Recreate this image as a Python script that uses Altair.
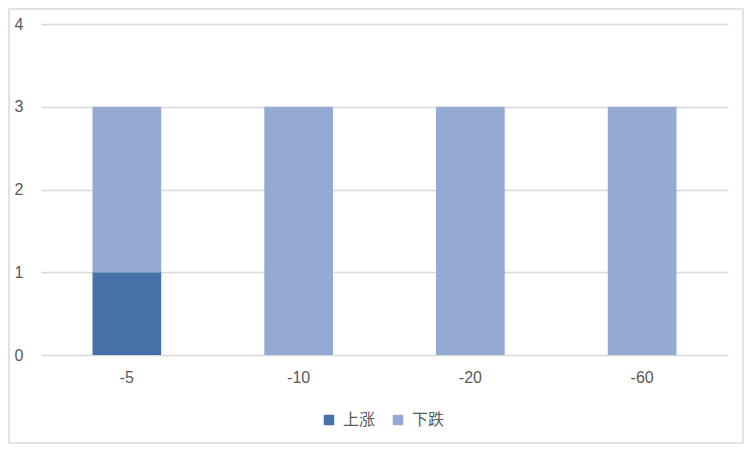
import altair as alt
import pandas as pd

categories = ["-5", "-10", "-20", "-60"]
series = ["上涨", "下跌"]
up_values = [1, 0, 0, 0]
down_values = [2, 3, 3, 3]
colors = ["#4472A8", "#95AAD3"]

rows = []
for i, c in enumerate(categories):
    rows.append({"cat": c, "series": series[0], "value": up_values[i], "ord": 0})
    rows.append({"cat": c, "series": series[1], "value": down_values[i], "ord": 1})
df = pd.DataFrame(rows)

W, H = 687, 331
PL, PT = 33, 16
PR = 736 - PL - W
PB = 436 - PT - H

bars = alt.Chart(df).mark_bar().encode(
    x=alt.X("cat:N", sort=categories, title=None,
            scale=alt.Scale(paddingInner=0.6, paddingOuter=0.3),
            axis=alt.Axis(labelAngle=0, ticks=False, domain=False, grid=False,
                          labelPadding=14, labelFontSize=16, labelColor="#595959",
                          labelFont="Liberation Sans")),
    y=alt.Y("value:Q", stack="zero", title=None,
            scale=alt.Scale(domain=[0, 4]),
            axis=alt.Axis(values=[0, 1, 2, 3, 4], ticks=False, domain=False,
                          gridColor="#D9D9D9", gridWidth=1.5, labelPadding=18,
                          labelFontSize=16, labelColor="#595959",
                          labelFont="Liberation Sans", format="d")),
    color=alt.Color("series:N", scale=alt.Scale(domain=series, range=colors),
                    legend=alt.Legend(title=None, orient="none", direction="horizontal",
                                      legendX=280, legendY=388, symbolType="square",
                                      symbolSize=110, symbolStrokeWidth=0,
                                      labelFontSize=16, labelColor="#595959",
                                      labelFont="Noto Sans CJK SC", columnPadding=14,
                                      labelOffset=6, padding=0)),
    order=alt.Order("ord:Q"),
)

border = alt.Chart(pd.DataFrame({"a": [0]})).mark_rect(
    fill=None, stroke="#D9D9D9", strokeWidth=1.5
).encode(
    x=alt.value(-PL + 1), x2=alt.value(W + PR - 1),
    y=alt.value(-PT + 1), y2=alt.value(H + PB - 1),
)

chart = alt.layer(border, bars).properties(
    width=W, height=H,
    padding={"left": PL, "top": PT, "right": PR, "bottom": PB},
    autosize=alt.AutoSizeParams(type="none"),
    background="white",
).configure_view(stroke=None)

chart.save("out.html", embed_options={"renderer": "svg", "actions": False})
